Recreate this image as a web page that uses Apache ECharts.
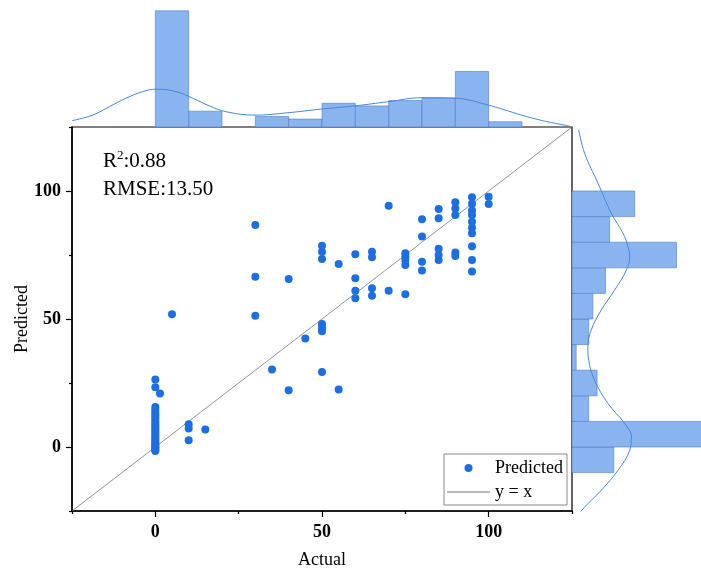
<!DOCTYPE html>
<html>
<head>
<meta charset="utf-8">
<script src="https://cdn.jsdelivr.net/npm/echarts@6/dist/echarts.min.js"></script>
<style>
html,body{margin:0;padding:0;background:#fff;}
#chart{width:701px;height:568px;}
</style>
</head>
<body>
<div id="chart"></div>
<script>
// ---- data ----
const actualValues = [
  0,0,0,0,0,0,0,0,0,0,0,0,0,0,0,0,0,0,0,0,0,0,0,0,0,0,
  1.4, 5,
  10,10,10, 15,
  30,30,30, 35, 40,40, 45,
  50,50,50,50,50,50,50, 55,55,
  60,60,60,60, 65,65,65,65, 70,70,
  75,75,75,75,75, 80,80,80,80,
  85,85,85,85,85, 90,90,90,90,90,
  95,95,95,95,95,95,95,95,95,95, 100,100
];
const predictedValues = [
  26.4,23.3,15.6,14.6,13.7,12.8,11.9,11.0,10.1,9.2,8.4,7.6,6.8,6.0,5.2,4.4,3.6,2.9,2.2,1.5,0.9,0.3,-0.2,-0.7,-1.2,-1.6,
  20.9, 51.9,
  8.9,7.2,2.6, 6.8,
  86.7,66.5,51.3, 30.3, 65.6,22.2, 42.4,
  78.6,76.3,73.4,48.0,46.5,45.2,29.3, 71.5,22.5,
  75.3,65.9,61.0,58.1, 76.3,74.1,62.0,59.1, 94.2,61.0,
  75.7,74.3,73.0,71.1,59.7, 89.0,82.2,72.4,68.9,
  93.0,89.4,77.4,75.0,73.0, 95.6,93.2,90.6,76.0,74.6,
  97.6,95.0,92.4,90.6,88.0,85.6,83.5,78.4,73.0,68.6, 97.8,94.9
];
const diagLine = [-25, 125];

const binWidth = 10;
const topBinStarts = [0,10,20,30,40,50,60,70,80,90,100];
const topCounts    = [44,6,0,4,3,9,8,10,11,21,2];
const rightBinStarts = [-10,0,10,20,30,40,50,60,70,80,90];
const rightCounts    = [10,31,4,6,1,4,5,8,25,9,15];

const topCurveX = [-25,-18.8,-13.8,-8.8,-3.8,0.2,6.2,11.2,16.2,21.2,29.9,39.8,49.9,59.9,70,80,89.9,99.9,109.9,116.2,124.2];
const topCurveY = [2.4,4.5,7.7,10.9,13.4,14.3,13.4,10.9,8.0,5.8,4.5,5.4,6.8,8.0,9.6,11.1,10.9,8.3,4.5,2.4,0.4];

const rightCurveValue = [123.9,114.8,103.1,91.3,83.5,78.2,74.3,69.1,61.3,53.5,45.7,39.1,33.9,26.1,17.0,9.2,3.9,-1.3,-9.1,-16.9,-23.5,-27.4];
const rightCurveCount = [1.6,3.0,6.2,9.4,12.2,13.4,13.8,13.0,10.2,7.0,4.6,3.8,4.0,5.4,8.6,12.6,14.2,13.8,11.0,7.0,3.0,1.05];

const majorTicks = [0,50,100];
const minorTicks = [-25,25,75,125];

// ---- chart ----
const FONT = "'Liberation Serif', 'Times New Roman', serif";
const chart = echarts.init(document.getElementById('chart'), null, {renderer: 'canvas'});

const scatterData = actualValues.map((a, i) => [a, predictedValues[i]]);
const topHist = topBinStarts.map((s, i) => [s, s + binWidth, topCounts[i]]);
const rightHist = rightBinStarts.map((s, i) => [s, s + binWidth, rightCounts[i]]);
const topCurve = topCurveX.map((x, i) => [x, topCurveY[i]]);
const rightCurve = rightCurveValue.map((v, i) => [rightCurveCount[i], v]);

const barFill = '#8ab4f0';
const barStroke = '#4f7cc6';
const curveColor = '#4a86d6';

const axisLabelStyle = {fontFamily: FONT, fontSize: 18, fontWeight: 'bold', color: '#000'};
const nameStyle = {fontFamily: FONT, fontSize: 18, color: '#000'};

chart.setOption({
  animation: false,
  backgroundColor: '#fff',
  grid: [
    {left: 72, right: 129, top: 127, bottom: 57, outerBoundsMode: 'none', containLabel: false,
     show: true, borderColor: '#000', borderWidth: 1.2, backgroundColor: 'transparent'},
    {left: 72, right: 129, top: 0, bottom: 441, outerBoundsMode: 'none', containLabel: false},
    {left: 572, right: 0, top: 127, bottom: 57, outerBoundsMode: 'none', containLabel: false}
  ],
  xAxis: [
    {gridIndex: 0, type: 'value', min: -25, max: 125, interval: 25, position: 'bottom',
     axisLine: {show: true, onZero: false, lineStyle: {color: '#000', width: 1.5}},
     axisTick: {show: true, length: 6, customValues: majorTicks, lineStyle: {color: '#000', width: 1.2}},
     axisLabel: {customValues: majorTicks, margin: 12, ...axisLabelStyle},
     splitLine: {show: false},
     name: 'Actual', nameLocation: 'middle', nameGap: 40, nameMoveOverlap: false, nameTextStyle: nameStyle},
    {gridIndex: 0, type: 'value', min: -25, max: 125, interval: 25, position: 'bottom',
     axisLine: {show: false, onZero: false},
     axisTick: {show: true, length: 3, customValues: minorTicks, lineStyle: {color: '#000', width: 1.2}},
     axisLabel: {show: false}, splitLine: {show: false}},
    {gridIndex: 1, type: 'value', min: -25, max: 125, show: false},
    {gridIndex: 2, type: 'value', min: 0, max: 30.86, show: false}
  ],
  yAxis: [
    {gridIndex: 0, type: 'value', min: -25, max: 125, interval: 25, position: 'left',
     axisLine: {show: true, onZero: false, lineStyle: {color: '#000', width: 1.5}},
     axisTick: {show: true, length: 6, customValues: majorTicks, lineStyle: {color: '#000', width: 1.2}},
     axisLabel: {customValues: majorTicks, margin: 11, ...axisLabelStyle},
     splitLine: {show: false},
     name: 'Predicted', nameLocation: 'middle', nameGap: 41, nameRotate: 90, nameMoveOverlap: false, nameTextStyle: nameStyle},
    {gridIndex: 0, type: 'value', min: -25, max: 125, interval: 25, position: 'left',
     axisLine: {show: false, onZero: false},
     axisTick: {show: true, length: 3, customValues: minorTicks, lineStyle: {color: '#000', width: 1.2}},
     axisLabel: {show: false}, splitLine: {show: false}},
    {gridIndex: 1, type: 'value', min: 0, max: 48.1, show: false},
    {gridIndex: 2, type: 'value', min: -25, max: 125, show: false}
  ],
  legend: {
    orient: 'vertical', left: 444, top: 454,
    data: [
      {name: 'Predicted', icon: 'circle'},
      {name: 'y = x', icon: 'path://M0,0h100v2h-100z'}
    ],
    itemWidth: 43, itemHeight: 8, itemGap: 6,
    padding: [5, 4, 4, 3],
    borderColor: '#888', borderWidth: 1, backgroundColor: '#fff',
    textStyle: {fontFamily: FONT, fontSize: 18, color: '#000'}
  },
  graphic: [
    {type: 'text', left: 103, top: 149, z: 100,
     style: {text: '{n|R}{s|2}{n|:0.88}',
       rich: {n: {fontFamily: FONT, fontSize: 21, fill: '#000', lineHeight: 24},
              s: {fontFamily: FONT, fontSize: 13, fill: '#000', verticalAlign: 'top', lineHeight: 14}}}},
    {type: 'text', left: 103, top: 179, z: 100,
     style: {text: 'RMSE:13.50', fontFamily: FONT, fontSize: 21, fill: '#000'}}
  ],
  series: [
    {type: 'custom', xAxisIndex: 2, yAxisIndex: 2, data: topHist, encode: {x: [0, 1], y: 2},
     renderItem: function (params, api) {
       if (!(api.value(2) > 0)) return null;
       const p0 = api.coord([api.value(0), 0]);
       const p1 = api.coord([api.value(1), api.value(2)]);
       return {type: 'rect', shape: {x: p0[0], y: p1[1], width: p1[0] - p0[0], height: p0[1] - p1[1]},
               style: {fill: barFill, stroke: barStroke, lineWidth: 0.6}};
     }},
    {type: 'line', xAxisIndex: 2, yAxisIndex: 2, data: topCurve, smooth: 0.4, symbol: 'none',
     lineStyle: {color: curveColor, width: 1}, z: 3},
    {type: 'custom', xAxisIndex: 3, yAxisIndex: 3, data: rightHist, encode: {x: 2, y: [0, 1]},
     renderItem: function (params, api) {
       if (!(api.value(2) > 0)) return null;
       const p0 = api.coord([0, api.value(0)]);
       const p1 = api.coord([api.value(2), api.value(1)]);
       return {type: 'rect', shape: {x: p0[0], y: p1[1], width: p1[0] - p0[0], height: p0[1] - p1[1]},
               style: {fill: barFill, stroke: barStroke, lineWidth: 0.6}};
     }},
    {type: 'line', xAxisIndex: 3, yAxisIndex: 3, data: rightCurve, smooth: 0.4, symbol: 'none',
     lineStyle: {color: curveColor, width: 1}, z: 3},
    {name: 'y = x', type: 'line', xAxisIndex: 0, yAxisIndex: 0,
     data: diagLine.map(v => [v, v]), symbol: 'none',
     lineStyle: {color: '#777', width: 0.8}, itemStyle: {color: '#777'}, z: 2},
    {name: 'Predicted', type: 'scatter', xAxisIndex: 0, yAxisIndex: 0, data: scatterData,
     symbolSize: 8, itemStyle: {color: '#1c6ee3', opacity: 1}, z: 4}
  ]
});
</script>
</body>
</html>
